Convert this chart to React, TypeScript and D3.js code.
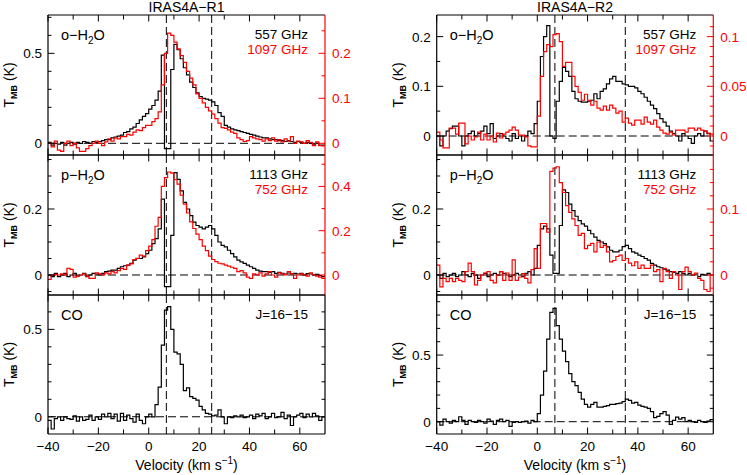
import React from "react";
import * as d3 from "d3";

// ---------- channel grid ----------
const V_START = -40;
const CHAN_WIDTH = 1.25;
const X_DOMAIN: [number, number] = [-40, 70];
const X_MAJOR = [-40, -20, 0, 20, 40, 60];
const X_MINOR = [-30, -10, 10, 30, 50];

// ---------- IRAS4A-R1 ----------
const R1_557 = [
  0.005, -0.01, 0.0, -0.005, 0.005, -0.01, 0.0, 0.005,
  -0.005, 0.005, 0.0, 0.01, 0.005, 0.0, 0.01, 0.005,
  0.01, 0.015, 0.02, 0.02, 0.03, 0.035, 0.04, 0.045,
  0.06, 0.065, 0.08, 0.09, 0.11, 0.13, 0.15, 0.165,
  0.19, 0.21, 0.24, 0.29, 0.49, -0.03, -0.03, 0.41,
  0.55, 0.52, 0.47, 0.42, 0.38, 0.34, 0.31, 0.28,
  0.26, 0.25, 0.245, 0.24, 0.23, 0.21, 0.17, 0.15,
  0.1, 0.09, 0.08, 0.075, 0.07, 0.065, 0.06, 0.055,
  0.05, 0.045, 0.04, 0.035, 0.03, 0.03, 0.025, 0.02,
  0.02, 0.015, 0.015, 0.01, 0.015, 0.01, 0.005, 0.01,
  0.005, 0.0, 0.005, 0.0, -0.005, 0.0, -0.01, -0.01,
];
const R1_1097 = [
  0.0, -0.008, 0.005, -0.015, -0.018, 0.0, 0.005, -0.005,
  0.0, -0.01, -0.018, -0.018, -0.012, -0.005, 0.0, 0.005,
  0.0, -0.005, 0.003, 0.01, 0.005, 0.012, 0.01, 0.015,
  0.015, 0.02, 0.018, 0.025, 0.03, 0.028, 0.035, 0.04,
  0.04, 0.048, 0.055, 0.07, 0.13, 0.2, 0.245, 0.24,
  0.225, 0.21, 0.195, 0.18, 0.16, 0.145, 0.13, 0.11,
  0.1, 0.09, 0.08, 0.072, 0.065, 0.055, 0.045, 0.035,
  0.033, 0.03, 0.025, 0.022, 0.012, 0.008, 0.004, 0.006,
  0.015, 0.012, 0.01, 0.008, 0.005, 0.01, 0.006, 0.012,
  0.005, 0.008, 0.003, 0.01, 0.005, 0.015, 0.0, 0.005,
  0.003, 0.0, 0.006, 0.002, -0.005, 0.003, -0.005, -0.006,
];
const R1_1113 = [
  0.0, -0.005, 0.005, -0.005, 0.0, 0.005, -0.005, 0.0,
  0.005, -0.003, 0.0, 0.005, -0.005, 0.0, 0.005, 0.003,
  0.0, 0.005, 0.01, 0.012, 0.015, 0.015, 0.02, 0.025,
  0.028, 0.03, 0.035, 0.045, 0.05, 0.05, 0.055, 0.065,
  0.075, 0.095, 0.11, 0.14, 0.23, -0.035, -0.035, 0.12,
  0.31, 0.29, 0.255, 0.22, 0.2, 0.18, 0.16, 0.15,
  0.145, 0.14, 0.145, 0.15, 0.14, 0.12, 0.1, 0.09,
  0.085, 0.075, 0.065, 0.055, 0.045, 0.04, 0.035, 0.03,
  0.025, 0.02, 0.015, 0.012, 0.01, 0.01, 0.008, 0.01,
  0.005, 0.008, 0.005, 0.003, 0.006, 0.004, 0.005, 0.003,
  0.005, 0.0, 0.004, 0.003, 0.0, 0.002, -0.002, -0.005,
];
const R1_752 = [
  -0.02, 0.0, 0.003, 0.0, 0.005, 0.0, 0.03, 0.025,
  -0.01, -0.005, 0.0, 0.005, -0.005, -0.015, -0.015, 0.01,
  0.005, 0.0, 0.01, 0.005, 0.015, 0.01, 0.02, 0.03,
  0.025, 0.045, 0.05, 0.07, 0.075, 0.09, 0.085, 0.11,
  0.13, 0.16, 0.22, 0.26, 0.4, 0.44, 0.465, 0.46,
  0.43, 0.41, 0.36, 0.32, 0.28, 0.24, 0.21, 0.185,
  0.16, 0.13, 0.11, 0.085, 0.07, 0.06, 0.053, 0.05,
  0.045, 0.04, 0.035, 0.03, 0.015, 0.02, 0.01, -0.01,
  -0.015, 0.005, 0.0, 0.01, -0.005, 0.005, 0.015, 0.0,
  -0.01, 0.01, 0.005, 0.0, 0.015, 0.005, -0.015, 0.0,
  0.005, 0.0, -0.005, 0.01, 0.0, -0.005, -0.01, -0.015,
];
const R1_CO = [
  -0.02, -0.07, -0.01, 0.0, -0.02, 0.0, -0.01, -0.015,
  0.005, -0.025, 0.0, -0.02, -0.015, 0.01, -0.02, 0.0,
  -0.015, 0.015, 0.0, 0.02, -0.01, 0.015, -0.025, 0.02,
  -0.02, 0.01, -0.01, -0.03, 0.015, -0.02, -0.04, 0.0,
  0.015, 0.0, 0.07, 0.17, 0.41, 0.61, 0.63, 0.5,
  0.37, 0.36, 0.3, 0.15, 0.165, 0.115, 0.105, 0.095,
  0.06, 0.04, 0.02, 0.015, 0.005, 0.01, 0.04, 0.0,
  -0.04, 0.0, -0.005, 0.005, 0.0, 0.01, -0.005, 0.0,
  0.01, -0.01, 0.015, 0.005, 0.02, -0.01, 0.0, 0.02,
  -0.005, 0.0, 0.025, -0.01, 0.01, -0.05, 0.0, 0.01,
  0.02, -0.005, 0.015, 0.0, 0.02, 0.005, -0.02, 0.0,
];

// ---------- IRAS4A-R2 ----------
const R2_557 = [
  0.0, -0.02, 0.0, 0.01, 0.015, 0.02, 0.02, 0.0,
  -0.02, 0.0, 0.005, 0.01, 0.0, 0.005, 0.01, 0.02,
  0.005, 0.025, -0.005, 0.0, 0.005, 0.0, -0.005, -0.01,
  0.005, -0.005, 0.0, -0.01, 0.0, 0.01, 0.005, 0.025,
  0.07, 0.16, 0.2, 0.222, 0.0, -0.005, 0.07, 0.11,
  0.138, 0.13, 0.12, 0.09, 0.075, 0.07, 0.068, 0.068,
  0.07, 0.072, 0.085, 0.075, 0.09, 0.095, 0.105, 0.115,
  0.12, 0.11, 0.11, 0.105, 0.103, 0.1, 0.1, 0.097,
  0.09, 0.085, 0.078, 0.07, 0.062, 0.055, 0.045, 0.035,
  0.028, 0.02, 0.01, 0.005, 0.0, -0.01, 0.005, 0.0,
  -0.005, -0.015, 0.0, 0.005, 0.0, 0.01, 0.005, -0.01,
];
const R2_1097 = [
  0.004, -0.004, -0.012, -0.012, 0.008, 0.008, 0.002, 0.013,
  0.013, -0.008, 0.0, -0.004, -0.001, 0.004, -0.004, 0.002,
  -0.004, 0.0, -0.006, 0.003, -0.002, 0.002, 0.004, 0.006,
  0.009, 0.006, 0.001, 0.001, -0.001, -0.01, -0.011, -0.011,
  0.02, 0.06, 0.085, 0.092, 0.09, 0.102, 0.103, 0.095,
  0.07, 0.074, 0.074, 0.06, 0.05, 0.044, 0.036, 0.042,
  0.036, 0.031, 0.035, 0.028, 0.026, 0.03, 0.026, 0.031,
  0.028, 0.023, 0.025, 0.014, 0.018, 0.013, 0.011, 0.016,
  0.016, 0.012, 0.019, 0.014, 0.012, 0.016, 0.009, 0.006,
  0.003, 0.002, 0.004, 0.001, 0.006, 0.006, 0.006, 0.004,
  0.008, 0.008, 0.006, 0.008, 0.006, 0.005, 0.003, 0.002,
];
const R2_1113 = [
  0.0, -0.01, 0.005, -0.005, 0.0, 0.005, -0.005, 0.0,
  0.01, 0.0, -0.005, 0.005, 0.0, -0.01, 0.0, 0.005,
  -0.005, 0.0, 0.005, 0.0, 0.01, 0.005, 0.0, -0.005,
  0.0, 0.005, 0.0, -0.005, 0.005, 0.01, 0.0, 0.02,
  0.09, 0.14, 0.148, 0.14, 0.06, 0.005, 0.005, 0.15,
  0.258, 0.25, 0.215, 0.195, 0.178, 0.165, 0.155, 0.148,
  0.135, 0.125, 0.115, 0.105, 0.1, 0.095, 0.085, 0.075,
  0.07, 0.07, 0.075, 0.086, 0.09, 0.08, 0.07, 0.066,
  0.06, 0.056, 0.05, 0.045, 0.035, 0.03, 0.025, 0.022,
  0.018, 0.015, 0.01, 0.008, 0.005, 0.01, 0.005, 0.0,
  0.005, 0.0, 0.003, -0.005, 0.002, 0.0, 0.005, 0.0,
];
const R2_752 = [
  0.015, -0.018, -0.005, -0.01, -0.005, -0.01, -0.005, -0.008,
  -0.01, 0.005, 0.018, 0.005, -0.015, -0.008, 0.0, 0.003,
  0.005, -0.008, -0.012, 0.0, 0.005, -0.008, 0.003, -0.008,
  0.023, -0.008, -0.003, 0.002, -0.005, -0.012, 0.008, 0.04,
  0.01, 0.078, 0.078, 0.065, 0.157, 0.162, 0.164, 0.14,
  0.125, 0.105, 0.095, 0.085, 0.075, 0.06, 0.063, 0.04,
  0.045, 0.048, 0.035, 0.05, 0.042, 0.045, 0.035, 0.02,
  0.022, 0.028, 0.03, 0.022, 0.025, 0.018, 0.014, 0.02,
  0.01, 0.015, 0.01, 0.01, 0.015, 0.005, 0.008, -0.01,
  0.01, 0.005, -0.005, 0.005, 0.0, -0.022, 0.005, 0.012,
  0.005, 0.0, 0.003, -0.005, -0.008, -0.022, -0.025, 0.0,
];
const R2_CO = [
  0.0, -0.025, 0.02, 0.0, -0.01, 0.01, 0.0, 0.037,
  0.01, -0.02, 0.01, 0.0, -0.005, 0.01, 0.0, -0.01,
  0.02, 0.005, -0.02, 0.01, 0.02, 0.0, 0.01, -0.035,
  -0.005, 0.0, -0.005, 0.0, 0.005, -0.01, 0.01, 0.0,
  0.06, 0.2, 0.38, 0.62, 0.82, 0.85, 0.72, 0.62,
  0.53, 0.45, 0.36, 0.3, 0.27, 0.22, 0.17, 0.13,
  0.11, 0.13, 0.145, 0.11, 0.11, 0.115, 0.12, 0.13,
  0.13, 0.135, 0.14, 0.15, 0.17, 0.16, 0.14, 0.145,
  0.125, 0.115, 0.11, 0.1, 0.075, 0.03, 0.04, 0.06,
  0.075, 0.05, -0.02, 0.01, 0.035, 0.02, 0.03, 0.0,
  0.01, 0.0, -0.005, 0.01, 0.0, -0.005, 0.005, 0.015,
];

// ---------- labels ----------
const TITLES = ["IRAS4A\u2212R1", "IRAS4A\u2212R2"];
const V_LINES_R1 = [7, 25];
const V_LINES_R2 = [7, 35];
const FREQ_TOP = ["557 GHz", "1097 GHz"];
const FREQ_MID = ["1113 GHz", "752 GHz"];
const CO_TRANSITION = "J=16\u221215";

// ---------- y axes (domain, major ticks, minor ticks) ----------
const R1_TOP_DOM = [-0.065, 0.713];
const R1_TOP_MAJ = [0, 0.5];
const R1_TOP_MIN = [0.1, 0.2, 0.3, 0.4, 0.6, 0.7];
const R1_TOP_RED_DOM = [-0.026, 0.2851];
const R1_TOP_RED_MAJ = [0, 0.1, 0.2];
const R1_TOP_RED_MIN = [0.05, 0.15, 0.25];

const R1_MID_DOM = [-0.0606, 0.3636];
const R1_MID_MAJ = [0, 0.2];
const R1_MID_MIN = [-0.05, 0.05, 0.1, 0.15, 0.25, 0.3, 0.35];
const R1_MID_RED_DOM = [-0.0903, 0.5418];
const R1_MID_RED_MAJ = [0, 0.2, 0.4];
const R1_MID_RED_MIN = [0.1, 0.3, 0.5];

const R1_BOT_DOM = [-0.0985, 0.6966];
const R1_BOT_MAJ = [0, 0.5];
const R1_BOT_MIN = [0.1, 0.2, 0.3, 0.4, 0.6];

const R2_TOP_DOM = [-0.0382, 0.2435];
const R2_TOP_MAJ = [0, 0.1, 0.2];
const R2_TOP_MIN = [0.05, 0.15];
const R2_TOP_RED_DOM = [-0.0191, 0.12175];
const R2_TOP_RED_MAJ = [0, 0.05, 0.1];
const R2_TOP_RED_MIN = [-0.01, 0.01, 0.02, 0.03, 0.04, 0.06, 0.07, 0.08, 0.09, 0.11];

const R2_MID_DOM = [-0.0606, 0.3636];
const R2_MID_MAJ = [0, 0.2];
const R2_MID_MIN = [-0.05, 0.05, 0.1, 0.15, 0.25, 0.3, 0.35];
const R2_MID_RED_DOM = [-0.0303, 0.1818];
const R2_MID_RED_MAJ = [0, 0.1];
const R2_MID_RED_MIN = [-0.02, 0.02, 0.04, 0.06, 0.08, 0.12, 0.14, 0.16];

const R2_BOT_DOM = [-0.0923, 0.9505];
const R2_BOT_MAJ = [0, 0.5];
const R2_BOT_MIN = [0.1, 0.2, 0.3, 0.4, 0.6, 0.7, 0.8, 0.9];

const RED = "#ff0000";
const FONT = "'Liberation Sans', Arial, Helvetica, sans-serif";

type YAxis = { dom: number[]; maj: number[]; min: number[] };

function fmt(v: number) {
  return String(+v.toFixed(3));
}

function stepPath(vals: number[], x: d3.ScaleLinear<number, number>, y: d3.ScaleLinear<number, number>) {
  const pts: [number, number][] = vals.map((v, i) => [V_START + i * CHAN_WIDTH, v]);
  pts.push([V_START + vals.length * CHAN_WIDTH, vals[vals.length - 1]]);
  return d3
    .line<[number, number]>()
    .x((d) => x(d[0]))
    .y((d) => y(d[1]))
    .curve(d3.curveStepAfter)(pts) as string;
}

type PanelProps = {
  id: string;
  x0: number;
  x1: number;
  y0: number;
  y1: number;
  black: number[];
  red?: number[];
  left: YAxis;
  right?: YAxis;
  vlines: number[];
  xLabels: boolean;
  species: React.ReactNode;
  line1: string;
  line2?: string;
};

function Panel(p: PanelProps) {
  const x = d3.scaleLinear().domain(X_DOMAIN).range([p.x0, p.x1]);
  const y = d3.scaleLinear().domain(p.left.dom).range([p.y1, p.y0]);
  const yr = p.right ? d3.scaleLinear().domain(p.right.dom).range([p.y1, p.y0]) : null;
  const MAJ = 6.5;
  const MIN = 3.5;
  const sw = 1.2;
  const rightColor = p.right ? RED : "#000";
  const inY = (v: number, sc: d3.ScaleLinear<number, number>) => sc(v) >= p.y0 - 0.1 && sc(v) <= p.y1 + 0.1;
  return (
    <g>
      <defs>
        <clipPath id={p.id}>
          <rect x={p.x0} y={p.y0} width={p.x1 - p.x0} height={p.y1 - p.y0} />
        </clipPath>
      </defs>
      {/* dashed reference lines */}
      <g stroke="#000" strokeWidth={1} strokeDasharray="8,4" fill="none">
        <line x1={p.x0} x2={p.x1} y1={y(0)} y2={y(0)} />
        {p.vlines.map((v) => (
          <line key={v} x1={x(v)} x2={x(v)} y1={p.y0} y2={p.y1} />
        ))}
      </g>
      <g clipPath={`url(#${p.id})`} fill="none" strokeWidth={1.2} strokeLinejoin="miter">
        <path d={stepPath(p.black, x, y)} stroke="#000" />
        {p.red && yr && <path d={stepPath(p.red, x, yr)} stroke={RED} />}
      </g>
      {/* frame */}
      <g strokeWidth={sw} fill="none">
        <line x1={p.x0} x2={p.x1} y1={p.y0} y2={p.y0} stroke="#000" />
        <line x1={p.x0} x2={p.x1} y1={p.y1} y2={p.y1} stroke="#000" />
        <line x1={p.x0} x2={p.x0} y1={p.y0} y2={p.y1} stroke="#000" />
        <line x1={p.x1} x2={p.x1} y1={p.y0} y2={p.y1} stroke={rightColor} />
      </g>
      {/* x ticks */}
      <g stroke="#000" strokeWidth={1}>
        {X_MAJOR.concat(X_MINOR).map((v) => {
          const len = X_MAJOR.includes(v) ? MAJ : MIN + 1;
          return (
            <g key={v}>
              <line x1={x(v)} x2={x(v)} y1={p.y1} y2={p.y1 - len} />
              <line x1={x(v)} x2={x(v)} y1={p.y0} y2={p.y0 + len} />
            </g>
          );
        })}
      </g>
      {/* left ticks */}
      <g stroke="#000" strokeWidth={1}>
        {p.left.maj.map((v) => (
          <line key={"M" + v} x1={p.x0} x2={p.x0 + MAJ} y1={y(v)} y2={y(v)} />
        ))}
        {p.left.min.filter((v) => inY(v, y)).map((v) => (
          <line key={"m" + v} x1={p.x0} x2={p.x0 + MIN} y1={y(v)} y2={y(v)} />
        ))}
        {!p.right &&
          p.left.maj.map((v) => <line key={"RM" + v} x1={p.x1} x2={p.x1 - MAJ} y1={y(v)} y2={y(v)} />)}
        {!p.right &&
          p.left.min
            .filter((v) => inY(v, y))
            .map((v) => <line key={"Rm" + v} x1={p.x1} x2={p.x1 - MIN} y1={y(v)} y2={y(v)} />)}
      </g>
      <g fontFamily={FONT} fontSize={13.5} textAnchor="end" fill="#000">
        {p.left.maj.map((v) => (
          <text key={v} x={p.x0 - 6} y={y(v) + 5}>
            {fmt(v)}
          </text>
        ))}
      </g>
      {p.right && yr && (
        <g>
          <g stroke={RED} strokeWidth={1}>
            {p.right.maj.map((v) => (
              <line key={"M" + v} x1={p.x1} x2={p.x1 - MAJ} y1={yr(v)} y2={yr(v)} />
            ))}
            {p.right.min.filter((v) => inY(v, yr)).map((v) => (
              <line key={"m" + v} x1={p.x1} x2={p.x1 - MIN} y1={yr(v)} y2={yr(v)} />
            ))}
          </g>
          <g fontFamily={FONT} fontSize={13.5} textAnchor="start" fill={RED}>
            {p.right.maj.map((v) => (
              <text key={v} x={p.x1 + 7} y={yr(v) + 5}>
                {fmt(v)}
              </text>
            ))}
          </g>
        </g>
      )}
      {p.xLabels && (
        <g fontFamily={FONT} fontSize={13.5} textAnchor="middle" fill="#000">
          {X_MAJOR.map((v) => (
            <text key={v} x={x(v)} y={p.y1 + 17}>
              {v < 0 ? "\u2212" + Math.abs(v) : String(v)}
            </text>
          ))}
        </g>
      )}
      {/* annotations */}
      <g fontFamily={FONT} fontSize={14.5}>
        <text x={p.x0 + 13} y={p.y0 + 25} fill="#000">
          {p.species}
        </text>
        <text x={p.x1 - 17} y={p.y0 + 24} textAnchor="end" fill="#000" fontSize={13.5}>
          {p.line1}
        </text>
        {p.line2 && (
          <text x={p.x1 - 17} y={p.y0 + 39} textAnchor="end" fill={RED} fontSize={13.5}>
            {p.line2}
          </text>
        )}
      </g>
      {/* y label */}
      <text
        transform={`translate(${p.x0 - 34},${(p.y0 + p.y1) / 2}) rotate(-90)`}
        fontFamily={FONT}
        fontSize={14}
        textAnchor="middle"
        fill="#000"
      >
        T
        <tspan fontSize={9} fontWeight="bold" dy={3}>
          MB
        </tspan>
        <tspan dy={-3}> (K)</tspan>
      </text>
    </g>
  );
}

const Water = ({ kind }: { kind: string }) => (
  <>
    {kind}
    {"\u2212H"}
    <tspan fontSize={10} dy={4}>
      2
    </tspan>
    <tspan dy={-4}>O</tspan>
  </>
);

export default function App() {
  const cols = [
    { x0: 48, x1: 325 },
    { x0: 436.7, x1: 713.3 },
  ];
  const rows = [
    { y0: 15, y1: 155 },
    { y0: 155, y1: 295 },
    { y0: 295, y1: 434 },
  ];
  const data = [
    {
      top: { black: R1_557, red: R1_1097, left: { dom: R1_TOP_DOM, maj: R1_TOP_MAJ, min: R1_TOP_MIN }, right: { dom: R1_TOP_RED_DOM, maj: R1_TOP_RED_MAJ, min: R1_TOP_RED_MIN } },
      mid: { black: R1_1113, red: R1_752, left: { dom: R1_MID_DOM, maj: R1_MID_MAJ, min: R1_MID_MIN }, right: { dom: R1_MID_RED_DOM, maj: R1_MID_RED_MAJ, min: R1_MID_RED_MIN } },
      bot: { black: R1_CO, left: { dom: R1_BOT_DOM, maj: R1_BOT_MAJ, min: R1_BOT_MIN } },
      vlines: V_LINES_R1,
    },
    {
      top: { black: R2_557, red: R2_1097, left: { dom: R2_TOP_DOM, maj: R2_TOP_MAJ, min: R2_TOP_MIN }, right: { dom: R2_TOP_RED_DOM, maj: R2_TOP_RED_MAJ, min: R2_TOP_RED_MIN } },
      mid: { black: R2_1113, red: R2_752, left: { dom: R2_MID_DOM, maj: R2_MID_MAJ, min: R2_MID_MIN }, right: { dom: R2_MID_RED_DOM, maj: R2_MID_RED_MAJ, min: R2_MID_RED_MIN } },
      bot: { black: R2_CO, left: { dom: R2_BOT_DOM, maj: R2_BOT_MAJ, min: R2_BOT_MIN } },
      vlines: V_LINES_R2,
    },
  ];
  return (
    <svg
      width={747}
      height={475}
      style={{ position: "absolute", left: 0, top: 0, background: "#fff" }}
    >
      <rect width={747} height={475} fill="#fff" />
      {cols.map((c, ci) => {
        const d = data[ci];
        return (
          <g key={ci}>
            <text
              x={(c.x0 + c.x1) / 2}
              y={12}
              textAnchor="middle"
              fontFamily={FONT}
              fontSize={14}
              fill="#000"
            >
              {TITLES[ci]}
            </text>
            <Panel
              id={`c${ci}r0`}
              x0={c.x0}
              x1={c.x1}
              y0={rows[0].y0}
              y1={rows[0].y1}
              black={d.top.black}
              red={d.top.red}
              left={d.top.left}
              right={d.top.right}
              vlines={d.vlines}
              xLabels={false}
              species={<Water kind="o" />}
              line1={FREQ_TOP[0]}
              line2={FREQ_TOP[1]}
            />
            <Panel
              id={`c${ci}r1`}
              x0={c.x0}
              x1={c.x1}
              y0={rows[1].y0}
              y1={rows[1].y1}
              black={d.mid.black}
              red={d.mid.red}
              left={d.mid.left}
              right={d.mid.right}
              vlines={d.vlines}
              xLabels={false}
              species={<Water kind="p" />}
              line1={FREQ_MID[0]}
              line2={FREQ_MID[1]}
            />
            <Panel
              id={`c${ci}r2`}
              x0={c.x0}
              x1={c.x1}
              y0={rows[2].y0}
              y1={rows[2].y1}
              black={d.bot.black}
              left={d.bot.left}
              vlines={d.vlines}
              xLabels={true}
              species={"CO"}
              line1={CO_TRANSITION}
            />
            <text
              x={(c.x0 + c.x1) / 2}
              y={470}
              textAnchor="middle"
              fontFamily={FONT}
              fontSize={14}
              fill="#000"
            >
              Velocity (km s
              <tspan fontSize={10} dy={-6}>
                {"\u22121"}
              </tspan>
              <tspan dy={6}>)</tspan>
            </text>
          </g>
        );
      })}
    </svg>
  );
}
